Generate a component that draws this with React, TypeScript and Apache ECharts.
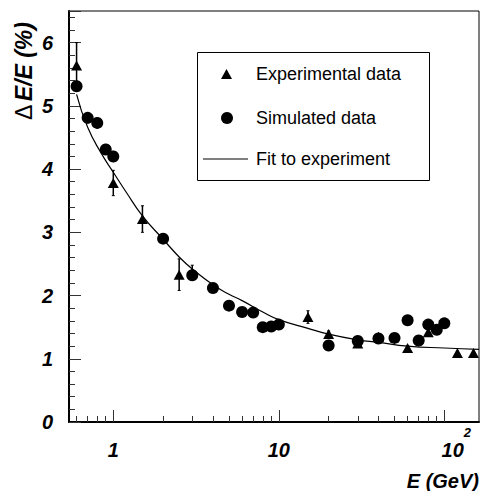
import React, { useEffect, useRef } from "react";
import * as echarts from "echarts";

// Experimental data (triangles) with error bars
const expE = [0.6, 1, 1.5, 2.5, 3, 15, 20, 30, 40, 60, 80, 120, 150];
const expY = [5.64, 3.78, 3.21, 2.33, 2.36, 1.66, 1.39, 1.24, 1.35, 1.17, 1.42, 1.09, 1.09];
const expErr = [0.36, 0.2, 0.21, 0.25, 0.12, 0.1, 0.05, 0.04, 0.04, 0.04, 0.04, 0.03, 0.03];

// Simulated data (circles)
const simE = [0.6, 0.7, 0.8, 0.9, 1, 2, 3, 4, 5, 6, 7, 8, 9, 10, 20, 30, 40, 50, 60, 70, 80, 90, 100];
const simY = [5.31, 4.81, 4.73, 4.31, 4.2, 2.9, 2.32, 2.12, 1.84, 1.74, 1.73, 1.5, 1.51, 1.54, 1.21, 1.28, 1.32, 1.33, 1.61, 1.29, 1.54, 1.46, 1.56];
const simErr = [0.08, 0.08, 0.08, 0.08, 0.08, 0.07, 0.07, 0.06, 0.06, 0.06, 0.06, 0.05, 0.05, 0.05, 0.05, 0.05, 0.05, 0.05, 0.05, 0.05, 0.05, 0.05, 0.05];

// Fit to experiment
const fitE = [0.6, 0.7, 0.85, 1, 1.2, 1.5, 2, 2.5, 3, 4, 5, 6, 8, 10, 15, 20, 30, 40, 60, 100, 162];
const fitY = [5.18, 4.66, 4.24, 3.95, 3.63, 3.26, 2.89, 2.61, 2.42, 2.17, 2.02, 1.92, 1.74, 1.62, 1.48, 1.39, 1.3, 1.26, 1.2, 1.17, 1.15];

// Axis ticks
const xMajorTicks = [1, 10, 100];
const xMinorTicks = [0.6, 0.7, 0.8, 0.9, 2, 3, 4, 5, 6, 7, 8, 9, 20, 30, 40, 50, 60, 70, 80, 90];
const X_MIN = 0.54;
const X_MAX = 162;
const Y_MIN = 0;
const Y_MAX = 6.5;

const FONT = "'Liberation Sans', Arial, Helvetica, sans-serif";

const legendText = {
  fontFamily: FONT,
  fontSize: 18,
  color: "#000",
  lineHeight: 16,
};

export default function App() {
  const ref = useRef<HTMLDivElement>(null);

  useEffect(() => {
    if (!ref.current) return;
    const chart = echarts.init(ref.current, null, { renderer: "svg" });

    const errData = [
      ...expE.map((e, i) => [e, expY[i] - expErr[i], expY[i] + expErr[i]]),
      ...simE.map((e, i) => [e, simY[i] - simErr[i], simY[i] + simErr[i]]),
    ];

    const option: any = {
      animation: false,
      backgroundColor: "#fff",
      grid: {
        left: 69,
        right: 3,
        top: 11,
        bottom: 69,
        show: true,
        borderColor: "#000",
        borderWidth: 1,
        backgroundColor: "transparent",
      },
      legend: [
        {
          left: 221,
          top: 65,
          padding: 0,
          selectedMode: false,
          itemWidth: 11,
          itemHeight: 10,
          textStyle: { ...legendText, padding: [0, 0, 0, 19] },
          data: [{ name: "Experimental data", icon: "triangle" }],
        },
        {
          left: 221,
          top: 109,
          padding: 0,
          selectedMode: false,
          itemWidth: 12,
          itemHeight: 12,
          textStyle: { ...legendText, padding: [0, 0, 0, 18] },
          data: [{ name: "Simulated data", icon: "circle" }],
        },
        {
          left: 203,
          top: 150,
          padding: 0,
          selectedMode: false,
          itemWidth: 45,
          itemHeight: 1.2,
          textStyle: { ...legendText, padding: [0, 0, 0, 3] },
          data: [{ name: "Fit to experiment", icon: "rect" }],
        },
      ],
      xAxis: [
        {
          type: "log",
          logBase: 10,
          min: X_MIN,
          max: X_MAX,
          axisLine: { show: true, lineStyle: { color: "#000", width: 2 } },
          axisTick: {
            show: true,
            inside: true,
            length: 12,
            customValues: xMajorTicks,
            lineStyle: { color: "#333", width: 1 },
          },
          axisLabel: {
            customValues: xMajorTicks,
            margin: 4,
            formatter: (v: number) =>
              v >= 100 ? "{c|10}{s|2}" : "{a|" + String(Math.round(v)) + "}",
            rich: {
              a: {
                fontFamily: FONT,
                fontSize: 20,
                fontWeight: "bold",
                fontStyle: "italic",
                color: "#000",
                padding: [14, 0, 0, 0],
              },
              c: {
                fontFamily: FONT,
                fontSize: 20,
                fontWeight: "bold",
                fontStyle: "italic",
                color: "#000",
                padding: [14, 0, 0, 24],
              },
              s: {
                fontFamily: FONT,
                fontSize: 13,
                fontWeight: "bold",
                fontStyle: "italic",
                color: "#000",
                padding: [0, 0, 21, 0],
              },
            },
          },
          splitLine: { show: false },
        },
        {
          type: "log",
          logBase: 10,
          min: X_MIN,
          max: X_MAX,
          position: "bottom",
          axisLine: { show: false },
          axisTick: {
            show: true,
            inside: true,
            length: 6,
            customValues: xMinorTicks,
            lineStyle: { color: "#333", width: 1 },
          },
          axisLabel: { show: false },
          splitLine: { show: false },
        },
      ],
      yAxis: {
        type: "value",
        min: Y_MIN,
        max: Y_MAX,
        interval: 1,
        axisLine: { show: true, lineStyle: { color: "#000", width: 2 } },
        axisTick: { show: true, inside: true, length: 12, lineStyle: { color: "#333", width: 1 } },
        minorTick: { show: true, splitNumber: 5, length: 6, lineStyle: { color: "#333", width: 1 } },
        axisLabel: {
          margin: 16,
          fontFamily: FONT,
          fontSize: 20,
          fontWeight: "bold",
          fontStyle: "italic",
          color: "#000",
          showMaxLabel: false,
          formatter: (v: number) => (Number.isInteger(v) ? String(v) : ""),
        },
        splitLine: { show: false },
      },
      graphic: [
        {
          type: "rect",
          z: -10,
          shape: { x: 197.5, y: 52.5, width: 232, height: 128 },
          style: { fill: "#fff", stroke: "#000", lineWidth: 1 },
        },
        {
          type: "text",
          x: 24,
          y: 71,
          rotation: Math.PI / 2,
          style: {
            text: "{d|Δ} {e|E/E (%)}",
            align: "center",
            verticalAlign: "middle",
            rich: {
              d: { fontFamily: FONT, fontSize: 23, fontWeight: "normal", fill: "#000" },
              e: { fontFamily: FONT, fontSize: 23, fontWeight: "bold", fontStyle: "italic", fill: "#000" },
            },
          },
        },
        {
          type: "text",
          x: 479,
          y: 481,
          style: {
            text: "E (GeV)",
            align: "right",
            verticalAlign: "middle",
            fontFamily: FONT,
            fontSize: 20,
            fontWeight: "bold",
            fontStyle: "italic",
            fill: "#000",
          },
        },
      ],
      series: [
        {
          name: "Fit to experiment",
          type: "line",
          data: fitE.map((e, i) => [e, fitY[i]]),
          symbol: "none",
          showSymbol: false,
          smooth: true,
          lineStyle: { color: "#000", width: 1.2 },
          itemStyle: { color: "#000" },
          z: 2,
        },
        {
          name: "errors",
          type: "custom",
          data: errData,
          encode: { x: 0, y: [1, 2] },
          z: 3,
          renderItem: (params: any, api: any) => {
            const x = api.value(0);
            const a = api.coord([x, api.value(1)]);
            const b = api.coord([x, api.value(2)]);
            return {
              type: "group",
              children: [
                {
                  type: "line",
                  shape: { x1: a[0], y1: a[1], x2: b[0], y2: b[1] },
                  style: { stroke: "#000", lineWidth: 1.5 },
                },
                {
                  type: "line",
                  shape: { x1: a[0] - 1.5, y1: a[1], x2: a[0] + 1.5, y2: a[1] },
                  style: { stroke: "#000", lineWidth: 1 },
                },
                {
                  type: "line",
                  shape: { x1: b[0] - 1.5, y1: b[1], x2: b[0] + 1.5, y2: b[1] },
                  style: { stroke: "#000", lineWidth: 1 },
                },
              ],
            };
          },
        },
        {
          name: "Experimental data",
          type: "scatter",
          data: expE.map((e, i) => [e, expY[i]]),
          symbol: "triangle",
          symbolSize: [11, 10],
          itemStyle: { color: "#000", opacity: 1 },
          z: 4,
        },
        {
          name: "Simulated data",
          type: "scatter",
          data: simE.map((e, i) => [e, simY[i]]),
          symbol: "circle",
          symbolSize: 12,
          itemStyle: { color: "#000", opacity: 1 },
          z: 4,
        },
      ],
    };

    chart.setOption(option);
    return () => chart.dispose();
  }, []);

  return (
    <div
      ref={ref}
      style={{ position: "fixed", left: 0, top: 0, width: 482, height: 491, background: "#fff" }}
    />
  );
}
